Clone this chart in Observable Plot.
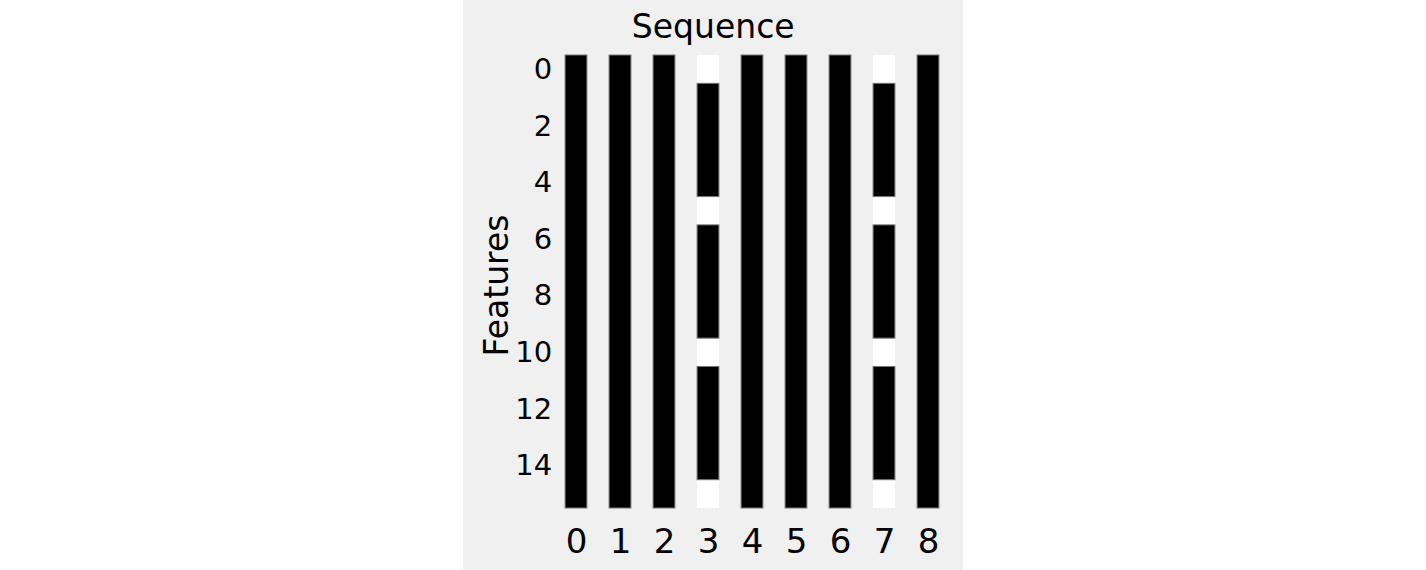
<!DOCTYPE html>
<html>
<head>
<meta charset="utf-8">
<script src="https://cdn.jsdelivr.net/npm/d3@7"></script>
<script src="https://cdn.jsdelivr.net/npm/@observablehq/plot@0.6"></script>
<style>
  html, body { margin: 0; padding: 0; background: #ffffff; overflow: hidden; }
  #fig { width: 500px; height: 570px; margin: 0 auto; background: #f0f0f0; }
  #fig svg { display: block; }
</style>
</head>
<body>
<div id="fig"></div>
<script>
// Sequence positions (x) and feature rows (y)
const sequence = [0, 1, 2, 3, 4, 5, 6, 7, 8];
const features = [0, 1, 2, 3, 4, 5, 6, 7, 8, 9, 10, 11, 12, 13, 14, 15];
// 1 = black (active), 0 = white; one list per sequence column, rows 0..15
const col0 = [1,1,1,1,1,1,1,1,1,1,1,1,1,1,1,1];
const col1 = [1,1,1,1,1,1,1,1,1,1,1,1,1,1,1,1];
const col2 = [1,1,1,1,1,1,1,1,1,1,1,1,1,1,1,1];
const col3 = [0,1,1,1,1,0,1,1,1,1,0,1,1,1,1,0];
const col4 = [1,1,1,1,1,1,1,1,1,1,1,1,1,1,1,1];
const col5 = [1,1,1,1,1,1,1,1,1,1,1,1,1,1,1,1];
const col6 = [1,1,1,1,1,1,1,1,1,1,1,1,1,1,1,1];
const col7 = [0,1,1,1,1,0,1,1,1,1,0,1,1,1,1,0];
const col8 = [1,1,1,1,1,1,1,1,1,1,1,1,1,1,1,1];
const columns = [col0, col1, col2, col3, col4, col5, col6, col7, col8];
const xTicks = [0, 1, 2, 3, 4, 5, 6, 7, 8];
const yTicks = [0, 2, 4, 6, 8, 10, 12, 14];

// Build runs of equal value per column
const runs = [];
columns.forEach((vals, ci) => {
  let start = 0;
  for (let r = 1; r <= vals.length; r++) {
    if (r === vals.length || vals[r] !== vals[start]) {
      runs.push({x: sequence[ci], y1: features[start] - 0.5, y2: features[r - 1] + 0.5, v: vals[start]});
      start = r;
    }
  }
});

const font = "DejaVu Sans, sans-serif";
const chart = Plot.plot({
  width: 500,
  height: 570,
  marginLeft: 89.6,
  marginRight: 10.9,
  marginTop: 55,
  marginBottom: 62,
  style: {background: "#f0f0f0", fontFamily: font, color: "#000"},
  x: {type: "band", domain: sequence, padding: 0, axis: null},
  y: {type: "linear", domain: [-0.5, 15.5], reverse: true, axis: null},
  marks: [
    Plot.barY(runs.filter(d => d.v === 0), {x: "x", y1: "y1", y2: "y2", fill: "#ffffff", insetLeft: 11.08, insetRight: 11.08}),
    Plot.barY(runs.filter(d => d.v === 1), {x: "x", y1: "y1", y2: "y2", fill: "#000000", stroke: "#777777", strokeWidth: 1, insetLeft: 11.08, insetRight: 11.08}),
    Plot.axisX(xTicks, {tickSize: 0, tickPadding: 20, fontSize: 34, label: null, fill: "#000"}),
    Plot.axisY(yTicks, {tickSize: 0, tickPadding: 1, fontSize: 29, label: null, fill: "#000"}),
    Plot.text(["Sequence"], {frameAnchor: "top", dx: -39.6, dy: -17.5, lineAnchor: "bottom", textAnchor: "middle", fontSize: 33, fill: "#000"}),
    Plot.text(["Features"], {frameAnchor: "left", dx: -45.6, dy: 3.5, rotate: -90, lineAnchor: "bottom", textAnchor: "middle", fontSize: 33, fill: "#000"})
  ]
});
document.getElementById("fig").appendChild(chart);
</script>
</body>
</html>
